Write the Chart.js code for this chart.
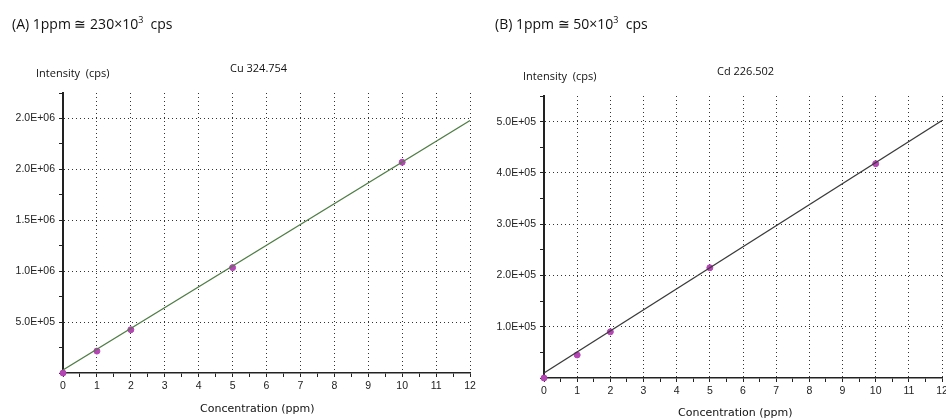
<!DOCTYPE html>
<html lang="en">

<head>
    <meta charset="UTF-8">
    <title>Calibration curves Cu / Cd</title>
    <script src="https://cdn.jsdelivr.net/npm/chart.js"></script>
    <style>
        body { margin: 0; width: 946px; height: 420px; overflow: hidden; background: #fff; position: relative; font-family: "Open Sans", sans-serif; }
        .box { position: absolute; top: 0; width: 480px; height: 420px; }
        .txt { position: absolute; white-space: nowrap; color: #111; }
        .head { font-size: 14px; }
        .small { font-size: 11px; }
        .xt { font-family: "DejaVu Sans", sans-serif; font-size: 11px; }
    </style>
</head>

<body>
    <div class="box" style="left:0"><canvas id="chartA"></canvas></div>
    <div class="box" style="left:480px"><canvas id="chartB"></canvas></div>

    <div class="txt head" style="left:12px; top:13px">(A) 1ppm ≅ 230×10<sup style="font-size:9px">3</sup>&nbsp; cps</div>
    <div class="txt small" style="left:36px; top:65px">Intensity&nbsp; (cps)</div>
    <div class="txt small" style="left:230px; top:60px">Cu 324.754</div>
    <div class="txt xt" style="left:200px; top:402px">Concentration (ppm)</div>

    <div class="txt head" style="left:495px; top:13px">(B) 1ppm ≅ 50×10<sup style="font-size:9px">3</sup>&nbsp; cps</div>
    <div class="txt small" style="left:523px; top:68px">Intensity&nbsp; (cps)</div>
    <div class="txt small" style="left:717px; top:63px">Cd 226.502</div>
    <div class="txt xt" style="left:678px; top:406px">Concentration (ppm)</div>

    <script>
        // concentrations of the standards (ppm)
        const concentrations = [0, 1, 2, 5, 10];
        // measured intensities (cps)
        const cuIntensity = [0, 215000, 425000, 1035000, 2070000];
        const cdIntensity = [0, 45000, 90000, 215000, 418000];

        // fitted calibration line, read at both ends of the x axis
        const fitX = [0, 12];
        const cuFit = [30000, 2480000];
        const cdFit = [10000, 502000];

        // y tick labels as printed on the original
        const cuTickValues = [500000, 1000000, 1500000, 2000000, 2500000];
        const cuTickLabels = ['5.0E+05', '1.0E+06', '1.5E+06', '2.0E+06', '2.0E+06'];
        const cdTickValues = [100000, 200000, 300000, 400000, 500000];
        const cdTickLabels = ['1.0E+05', '2.0E+05', '3.0E+05', '4.0E+05', '5.0E+05'];
        const xTickLabels = ['0', '1', '2', '3', '4', '5', '6', '7', '8', '9', '10', '11', '12'];

        const tickFont = { family: 'Liberation Sans', size: 10.5 };

        function points(xs, ys) {
            return xs.map((x, i) => ({ x: x, y: ys[i] }));
        }

        function makeChart(id, values, fit, lineColor, yMax, yStep, tickValues, tickLabels, pad, axisLeft) {
            const isMajorY = v => tickValues.includes(v);
            return new Chart(document.getElementById(id), {
                type: 'scatter',
                data: {
                    datasets: [{
                        data: points(fitX, fit),
                        showLine: true,
                        borderColor: lineColor,
                        borderWidth: 1.2,
                        pointRadius: 0
                    }, {
                        data: points(concentrations, values),
                        backgroundColor: '#b544b5',
                        borderColor: '#b544b5',
                        pointRadius: 3,
                        clip: false
                    }]
                },
                options: {
                    responsive: true,
                    maintainAspectRatio: false,
                    animation: false,
                    layout: { padding: pad },
                    plugins: { legend: { display: false }, tooltip: { enabled: false } },
                    scales: {
                        x: {
                            type: 'linear',
                            min: 0,
                            max: 12,
                            afterFit: s => { s.height = 26; },
                            ticks: {
                                stepSize: 0.5,
                                autoSkip: false,
                                maxRotation: 0,
                                padding: 3,
                                color: '#222',
                                font: tickFont,
                                callback: v => Number.isInteger(v) ? xTickLabels[v] : ''
                            },
                            grid: {
                                color: c => (c.tick && Number.isInteger(c.tick.value) && c.tick.value > 0) ? '#333' : 'rgba(0,0,0,0)',
                                tickColor: '#222',
                                tickLength: 4,
                                lineWidth: 1
                            },
                            border: { color: '#222', width: 1.5, dash: [1, 3] }
                        },
                        y: {
                            type: 'linear',
                            min: 0,
                            max: yMax,
                            afterFit: s => { s.width = axisLeft; },
                            ticks: {
                                stepSize: yStep,
                                autoSkip: false,
                                padding: 4,
                                color: '#222',
                                font: tickFont,
                                callback: v => isMajorY(v) ? tickLabels[tickValues.indexOf(v)] : ''
                            },
                            grid: {
                                color: c => (c.tick && isMajorY(c.tick.value)) ? '#333' : 'rgba(0,0,0,0)',
                                tickColor: '#222',
                                tickLength: 4,
                                lineWidth: 1
                            },
                            border: { color: '#222', width: 2, dash: [1, 3] }
                        }
                    }
                }
            });
        }

        makeChart('chartA', cuIntensity, cuFit, '#4f7d45', 2750000, 250000, cuTickValues, cuTickLabels,
            { left: 0, right: 10, top: 93, bottom: 21 }, 63);
        makeChart('chartB', cdIntensity, cdFit, '#3a3a3a', 550000, 50000, cdTickValues, cdTickLabels,
            { left: 0, right: 18, top: 96, bottom: 16 }, 64);
    </script>
</body>

</html>
